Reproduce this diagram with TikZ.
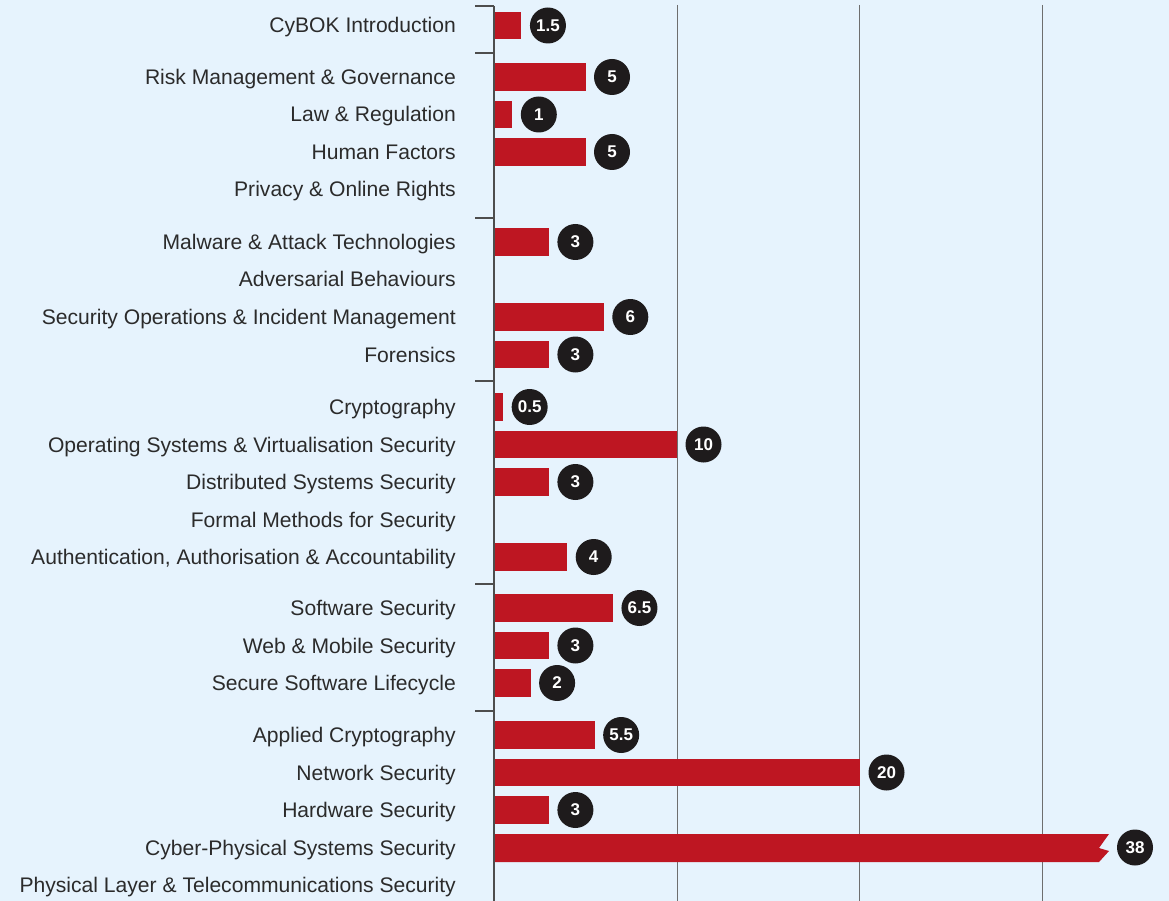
\documentclass[tikz,border=0pt]{standalone}
\usepackage{fontspec}
\setmainfont{Liberation Sans}
\definecolor{bg}{HTML}{E6F3FD}
\definecolor{barred}{HTML}{BE1622}
\definecolor{txt}{HTML}{2B2B2B}
\definecolor{axisgray}{HTML}{4D4D4D}
\definecolor{gridgray}{HTML}{6E6E6E}
\definecolor{dot}{HTML}{1E1B1C}
\newcommand\cblabel[3]{\node[lbl] (l#1) at (456,#2+7.5) {#3};}
\newcommand\cbbar[3]{%
  \pgfmathsetmacro\bw{#3*18.3}%
  \node[barbox, minimum width=\bw pt] (b#1) at (494,#2) {};
  \node[val] (v#1) at ([xshift=26.5pt]b#1.east) {#3};}
\begin{document}
\begin{tikzpicture}[x=1pt,y=-1pt,
  lbl/.style={anchor=base east, font=\fontsize{21.1}{24}\selectfont, text=txt, inner sep=0pt},
  barbox/.style={fill=barred, anchor=west, minimum height=27.5pt, inner sep=0pt, outer sep=0pt},
  val/.style={circle, fill=dot, text=white, minimum size=36pt, inner sep=0pt, font=\fontsize{17}{19}\selectfont\bfseries},
  gridline/.style={draw=gridgray, line width=1pt},
  axisline/.style={draw=axisgray, line width=1.4pt}]
\fill[bg] (0,0) rectangle (1169,901);
\useasboundingbox (0,0) rectangle (1169,901);
% grid lines
\coordinate (g1t) at (677,5); \coordinate (g1b) at (677,901);
\coordinate (g2t) at (859.5,5); \coordinate (g2b) at (859.5,901);
\coordinate (g3t) at (1042,5); \coordinate (g3b) at (1042,901);
\draw[gridline] (g1t) -- (g1b);
\draw[gridline] (g2t) -- (g2b);
\draw[gridline] (g3t) -- (g3b);
% labels
\cblabel{1}{25.5}{CyBOK Introduction}
\cblabel{2}{77}{Risk Management \& Governance}
\cblabel{3}{114.5}{Law \& Regulation}
\cblabel{4}{152}{Human Factors}
\cblabel{5}{189.5}{Privacy \& Online Rights}
\cblabel{6}{242}{Malware \& Attack Technologies}
\cblabel{7}{279.5}{Adversarial Behaviours}
\cblabel{8}{317}{Security Operations \& Incident Management}
\cblabel{9}{354.5}{Forensics}
\cblabel{10}{407}{Cryptography}
\cblabel{11}{444.5}{Operating Systems \& Virtualisation Security}
\cblabel{12}{482}{Distributed Systems Security}
\cblabel{13}{519.5}{Formal Methods for Security}
\cblabel{14}{557}{Authentication, Authorisation \& Accountability}
\cblabel{15}{608}{Software Security}
\cblabel{16}{645.5}{Web \& Mobile Security}
\cblabel{17}{683}{Secure Software Lifecycle}
\cblabel{18}{735}{Applied Cryptography}
\cblabel{19}{772.5}{Network Security}
\cblabel{20}{810}{Hardware Security}
\cblabel{21}{847.5}{Cyber-Physical Systems Security}
\cblabel{22}{885}{Physical Layer \& Telecommunications Security}
% bars
\cbbar{1}{25.5}{1.5}
\cbbar{2}{77}{5}
\cbbar{3}{114.5}{1}
\cbbar{4}{152}{5}
\cbbar{6}{242}{3}
\cbbar{8}{317}{6}
\cbbar{9}{354.5}{3}
\cbbar{10}{407}{0.5}
\cbbar{11}{444.5}{10}
\cbbar{12}{482}{3}
\cbbar{14}{557}{4}
\cbbar{15}{608}{6.5}
\cbbar{16}{645.5}{3}
\cbbar{17}{683}{2}
\cbbar{18}{735}{5.5}
\cbbar{19}{772.5}{20}
\cbbar{20}{810}{3}
% truncated bar
\fill[barred] (494,834) -- (1109,834) -- (1099,848) -- (1109,851) -- (1099,862) -- (494,862) -- cycle;
\node[val] (v21) at (1135,847.5) {38};
% axis and ticks
\coordinate (at) at (494,6); \coordinate (ab) at (494,901);
\draw[axisline] (at) -- (ab);
\foreach \ty [count=\k] in {6,53,218,381,584,711} {
  \coordinate (t\k) at (475,\ty); \coordinate (u\k) at (494,\ty);
  \draw[axisline, line width=1.2pt] (t\k) -- (u\k);
}
\end{tikzpicture}
\end{document}
